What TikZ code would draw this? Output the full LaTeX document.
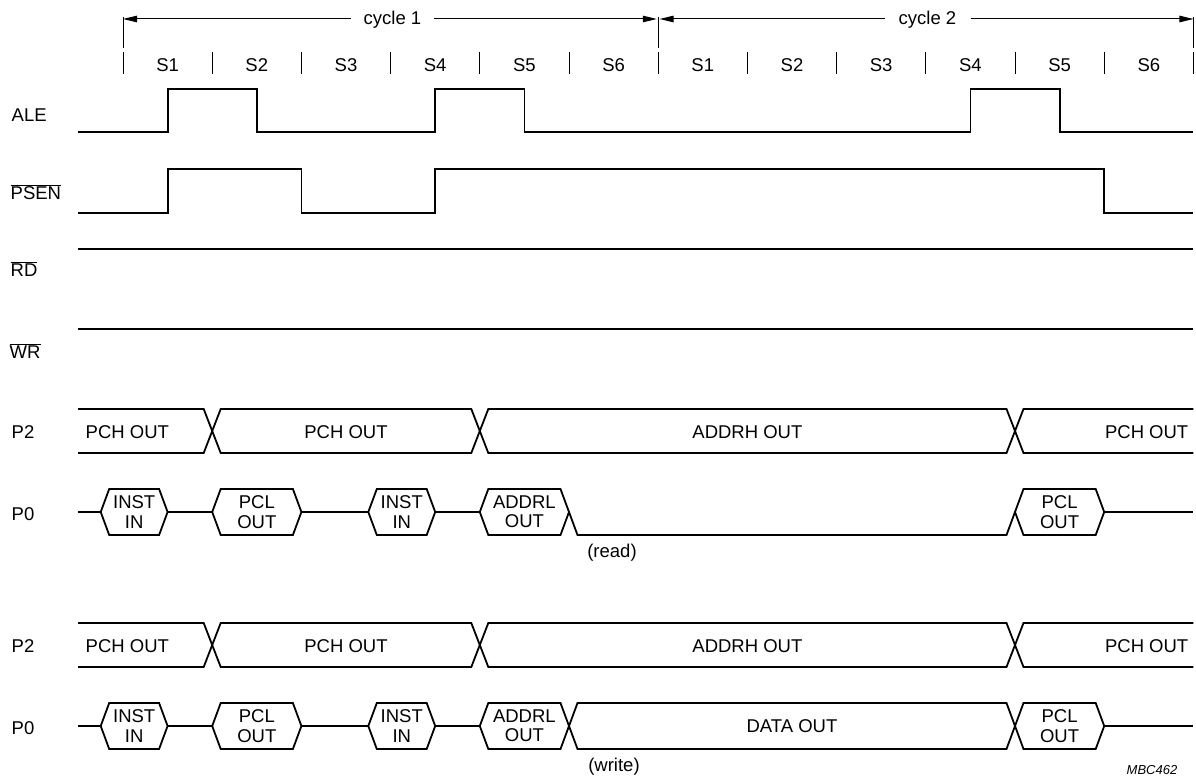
\documentclass[tikz,border=0pt]{standalone}
\usepackage{fontspec}
\setmainfont{Liberation Sans}
\usetikzlibrary{arrows.meta}
\newcommand\tdfont{\fontsize{18.5}{19.3}\selectfont}
% hexagon bus value from #1 to #2 at middle #3, half height #4
\newcommand\hexa[4]{\draw[sig] (#1,#3) -- ({#1+8.5},{#3-#4}) -- ({#2-8.5},{#3-#4}) -- (#2,#3) -- ({#2-8.5},{#3+#4}) -- ({#1+8.5},{#3+#4}) -- cycle;}
\begin{document}
\begin{tikzpicture}[x=1pt,y=-1pt,
  sig/.style={line width=1.8pt},
  thinln/.style={line width=1.0pt},
  arr/.style={thinln,-{Triangle[length=14pt,width=6.5pt]}},
  lbl/.style={anchor=base west,inner sep=0pt,font=\tdfont},
  txt/.style={inner sep=0pt,font=\tdfont,align=center},
  btxt/.style={anchor=base,inner sep=0pt,font=\tdfont}]
\useasboundingbox (0,0) rectangle (1196,778);

% ---- cycle arrows ----
\foreach \x in {123,658.2,1193.4} \draw[thinln] (\x,17) -- (\x,48);
\coordinate (c0) at (123,19);
\coordinate (c1a) at (656.8,19);
\coordinate (c1b) at (659.6,19);
\coordinate (c2) at (1193.4,19);
\node[btxt,inner xsep=13pt] (cyc1) at (392.5,24.5) {cycle 1};
\node[btxt,inner xsep=14pt] (cyc2) at (927.5,24.5) {cycle 2};
\draw[arr] (cyc1.west |- c0) -- (c0);
\draw[arr] (cyc1.east |- c0) -- (c1a);
\draw[arr] (cyc2.west |- c0) -- (c1b);
\draw[arr] (cyc2.east |- c0) -- (c2);

% ---- state ticks and labels ----
\foreach \k in {0,...,12} \draw[thinln] ({123+89.2*\k},52) -- ({123+89.2*\k},74);
\foreach \k/\s in {0/1,1/2,2/3,3/4,4/5,5/6,6/1,7/2,8/3,9/4,10/5,11/6}
  \node[btxt] (s\k) at ({167.6+89.2*\k},71.7) {S\s};

% ---- signal names ----
\node[lbl] (lale) at (11.5,121.7) {ALE};
\node[lbl] (lpsen) at (10.5,200) {$\overline{\hbox{\tdfont PSEN}}$};
\node[lbl] (lrd) at (10.5,276.7) {$\overline{\hbox{\tdfont RD}}$};
\node[lbl] (lwr) at (9.5,358.3) {$\overline{\hbox{\tdfont WR}}$};
\node[lbl] (lp2a) at (11.5,438) {P2};
\node[lbl] (lp0a) at (11.5,520) {P0};
\node[lbl] (lp2b) at (11.5,652) {P2};
\node[lbl] (lp0b) at (11.5,734) {P0};

% ---- ALE ----
\draw[sig] (78,132) -- (167.6,132) -- (167.6,89) -- (256.8,89) -- (256.8,132)
  -- (435.2,132) -- (435.2,89) -- (524.4,89) -- (524.4,132)
  -- (970.4,132) -- (970.4,89) -- (1059.6,89) -- (1059.6,132) -- (1193.4,132);
% ---- PSEN ----
\draw[sig] (78,213) -- (167.6,213) -- (167.6,169) -- (301.4,169) -- (301.4,213)
  -- (435.2,213) -- (435.2,169) -- (1104.2,169) -- (1104.2,213) -- (1193.4,213);
% ---- RD, WR ----
\draw[sig] (78,249) -- (1193.4,249);
\draw[sig] (78,329) -- (1193.4,329);

% ---- P2 (both groups) ----
\foreach \m in {431,645} {
  \draw[sig] (78,{\m-22}) -- (203.7,{\m-22}) -- (212.2,\m) -- (203.7,{\m+22}) -- (78,{\m+22});
  \hexa{212.2}{479.8}{\m}{22}
  \hexa{479.8}{1015}{\m}{22}
  \draw[sig] (1193.4,{\m-22}) -- (1023.5,{\m-22}) -- (1015,\m) -- (1023.5,{\m+22}) -- (1193.4,{\m+22});
}
\node[btxt,anchor=base west] (p2a1) at (85.5,438) {PCH OUT};
\node[btxt] (p2a2) at (346,438) {PCH OUT};
\node[btxt] (p2a3) at (747.4,438) {ADDRH OUT};
\node[btxt,anchor=base east] (p2a4) at (1188.5,438) {PCH OUT};
\node[btxt,anchor=base west] (p2b1) at (85.5,652) {PCH OUT};
\node[btxt] (p2b2) at (346,652) {PCH OUT};
\node[btxt] (p2b3) at (747.4,652) {ADDRH OUT};
\node[btxt,anchor=base east] (p2b4) at (1188.5,652) {PCH OUT};

% ---- P0 (both groups) ----
\foreach \m in {512,726} {
  \draw[sig] (78,\m) -- (100.7,\m);
  \hexa{100.7}{167.6}{\m}{23}
  \draw[sig] (167.6,\m) -- (212.2,\m);
  \hexa{212.2}{301.4}{\m}{23}
  \draw[sig] (301.4,\m) -- (368.3,\m);
  \hexa{368.3}{435.2}{\m}{23}
  \draw[sig] (435.2,\m) -- (479.8,\m);
  \hexa{479.8}{569}{\m}{23}
  \hexa{1015}{1104.2}{\m}{23}
  \draw[sig] (1104.2,\m) -- (1193.4,\m);
}
% read: bus floats low between ADDRL OUT and PCL OUT
\draw[sig] (569,512) -- (577.5,535) -- (1006.5,535) -- (1015,512);
% write: DATA OUT
\hexa{569}{1015}{726}{23}

\foreach \m/\g in {512/a,726/b} {
  \node[txt] (i1\g) at (134.2,\m) {INST\\IN};
  \node[txt] (p1\g) at (256.8,\m) {PCL\\OUT};
  \node[txt] (i2\g) at (401.8,\m) {INST\\IN};
  \node[txt] (ad\g) at (524.4,\m) {ADDRL\\OUT};
  \node[txt] (p2\g) at (1059.6,\m) {PCL\\OUT};
}
\node[btxt] (dout) at (792,732.6) {DATA OUT};

\node[txt] (rd) at (612,553) {(read)};
\node[txt] (wr) at (614,767) {(write)};
\node[inner sep=0pt,font=\fontsize{13}{15}\selectfont\itshape] (ref) at (1152,770) {MBC462};
\end{tikzpicture}
\end{document}
